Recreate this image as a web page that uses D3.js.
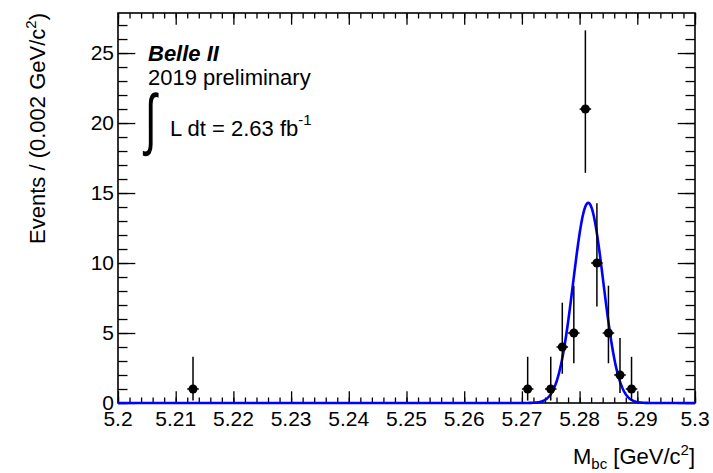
<!DOCTYPE html>
<html>
<head>
<meta charset="utf-8">
<script src="https://cdn.jsdelivr.net/npm/d3@7"></script>
<style>
  html, body { margin: 0; padding: 0; background: #fff; }
  svg text { font-family: "Liberation Sans", Arial, Helvetica, sans-serif; fill: #000; }
</style>
</head>
<body>
<svg id="chart" width="713" height="473"></svg>
<script>
// Histogram of M_bc: bin centres (bin width 0.002 GeV/c^2) and event counts
const binCenters = [5.213, 5.271, 5.275, 5.277, 5.279, 5.281, 5.283, 5.285, 5.287, 5.289];
const counts     = [1, 1, 1, 4, 5, 21, 10, 5, 2, 1];
// Asymmetric Poisson (68%) uncertainties
const errLow  = [0.827, 0.827, 0.827, 1.914, 2.160, 4.56, 3.109, 2.160, 1.292, 0.827];
const errHigh = [2.300, 2.300, 2.300, 3.163, 3.382, 5.62, 4.267, 3.382, 2.638, 2.300];
const binWidth = 0.002;

// Gaussian signal fit parameters
const fitAmplitude = 14.3;
const fitMean = 5.2815;
const fitSigma = 0.0026;

// Axis ticks
const xMajorTicks = [5.2, 5.21, 5.22, 5.23, 5.24, 5.25, 5.26, 5.27, 5.28, 5.29, 5.3];
const xTickLabels = ["5.2", "5.21", "5.22", "5.23", "5.24", "5.25", "5.26", "5.27", "5.28", "5.29", "5.3"];
const yMajorTicks = [0, 5, 10, 15, 20, 25];
const xDomain = [5.2, 5.3];
const yDomain = [0, 27.86];

const frame = { left: 118, right: 695, top: 13, bottom: 403 };
const svg = d3.select("#chart");

const x = d3.scaleLinear().domain(xDomain).range([frame.left, frame.right]);
const y = d3.scaleLinear().domain(yDomain).range([frame.bottom, frame.top]);

const plotH = frame.bottom - frame.top;
const plotW = frame.right - frame.left;
const xMajLen = 11.7, xMinLen = 5.5;
const yMajLen = 17.3, yMinLen = 9.5;

// Minor ticks
const xMinorTicks = d3.range(0, 51).map(i => 5.2 + i * 0.002).filter(v => v <= 5.3 + 1e-9);
const yMinorTicks = d3.range(0, 28);

// Axes with ticks pointing inwards, ROOT style
const g = svg.append("g");

function tickAxis(axisGen, transform) {
  const a = g.append("g").attr("transform", transform).call(axisGen);
  a.select(".domain").remove();
  a.selectAll("line").attr("stroke", "#000").attr("stroke-width", 1.3);
  return a;
}

// bottom: minor + major
tickAxis(d3.axisTop(x).tickValues(xMinorTicks).tickSize(xMinLen).tickFormat(""), `translate(0,${frame.bottom})`);
tickAxis(d3.axisTop(x).tickValues(xMajorTicks).tickSize(xMajLen).tickFormat(""), `translate(0,${frame.bottom})`);
// top
tickAxis(d3.axisBottom(x).tickValues(xMinorTicks).tickSize(xMinLen).tickFormat(""), `translate(0,${frame.top})`);
tickAxis(d3.axisBottom(x).tickValues(xMajorTicks).tickSize(xMajLen).tickFormat(""), `translate(0,${frame.top})`);
// left
tickAxis(d3.axisRight(y).tickValues(yMinorTicks).tickSize(yMinLen).tickFormat(""), `translate(${frame.left},0)`);
tickAxis(d3.axisRight(y).tickValues(yMajorTicks).tickSize(yMajLen).tickFormat(""), `translate(${frame.left},0)`);
// right
tickAxis(d3.axisLeft(y).tickValues(yMinorTicks).tickSize(yMinLen).tickFormat(""), `translate(${frame.right},0)`);
tickAxis(d3.axisLeft(y).tickValues(yMajorTicks).tickSize(yMajLen).tickFormat(""), `translate(${frame.right},0)`);

// Frame
g.append("rect")
  .attr("x", frame.left).attr("y", frame.top)
  .attr("width", plotW).attr("height", plotH)
  .attr("fill", "none").attr("stroke", "#000").attr("stroke-width", 1.6);

// Tick labels
g.append("g").selectAll("text").data(xMajorTicks).join("text")
  .attr("x", d => x(d)).attr("y", 426)
  .attr("text-anchor", "middle").attr("font-size", 21)
  .text((d, i) => xTickLabels[i]);

g.append("g").selectAll("text").data(yMajorTicks).join("text")
  .attr("x", 114).attr("y", d => y(d) + 6.5)
  .attr("text-anchor", "end").attr("font-size", 21)
  .text(d => d);

// Axis titles
const xt = svg.append("text").attr("x", frame.right).attr("y", 464)
  .attr("text-anchor", "end").attr("font-size", 22);
xt.append("tspan").text("M");
xt.append("tspan").attr("font-size", 15).attr("dy", 5).text("bc");
xt.append("tspan").attr("dy", -5).text(" [GeV/c");
xt.append("tspan").attr("font-size", 15).attr("dy", -9).text("2");
xt.append("tspan").attr("dy", 9).text("]");

const yt = svg.append("text")
  .attr("transform", `translate(45,${frame.top}) rotate(-90)`)
  .attr("text-anchor", "end").attr("font-size", 22);
yt.append("tspan").text("Events / (0.002 GeV/c");
yt.append("tspan").attr("font-size", 15).attr("dy", -9).text("2");
yt.append("tspan").attr("dy", 9).text(")");

// Fit curve
const curveX = d3.range(0, 1001).map(i => xDomain[0] + i * (xDomain[1] - xDomain[0]) / 1000);
const gauss = v => fitAmplitude * Math.exp(-0.5 * Math.pow((v - fitMean) / fitSigma, 2));
svg.append("path")
  .datum(curveX)
  .attr("d", d3.line().x(d => x(d)).y(d => y(gauss(d))))
  .attr("fill", "none").attr("stroke", "#0000ff").attr("stroke-width", 2.6);

// Data points with error bars
const pts = svg.append("g");
const data = binCenters.map((c, i) => ({ c, n: counts[i], lo: errLow[i], hi: errHigh[i] }));
pts.selectAll("line.ey").data(data).join("line").attr("class", "ey")
  .attr("x1", d => x(d.c)).attr("x2", d => x(d.c))
  .attr("y1", d => y(d.n - d.lo)).attr("y2", d => y(d.n + d.hi))
  .attr("stroke", "#000").attr("stroke-width", 1.5);
pts.selectAll("line.ex").data(data).join("line").attr("class", "ex")
  .attr("x1", d => x(d.c - binWidth / 2)).attr("x2", d => x(d.c + binWidth / 2))
  .attr("y1", d => y(d.n)).attr("y2", d => y(d.n))
  .attr("stroke", "#000").attr("stroke-width", 1.5);
pts.selectAll("circle").data(data).join("circle")
  .attr("cx", d => x(d.c)).attr("cy", d => y(d.n)).attr("r", 4.5)
  .attr("fill", "#000");

// Labels
const lab = svg.append("g");
lab.append("text").attr("x", 148).attr("y", 61)
  .attr("font-size", 22).attr("font-weight", "bold").attr("font-style", "italic")
  .text("Belle II");
lab.append("text").attr("x", 148).attr("y", 85)
  .attr("font-size", 22).text("2019 preliminary");
lab.append("text").attr("transform", "translate(145,142) scale(0.85,1.35)")
  .attr("font-size", 50).text("∫");
const lum = lab.append("text").attr("x", 170).attr("y", 136).attr("font-size", 22);
lum.append("tspan").text("L dt = 2.63 fb");
lum.append("tspan").attr("font-size", 15).attr("dy", -11).text("-1");
</script>
</body>
</html>
